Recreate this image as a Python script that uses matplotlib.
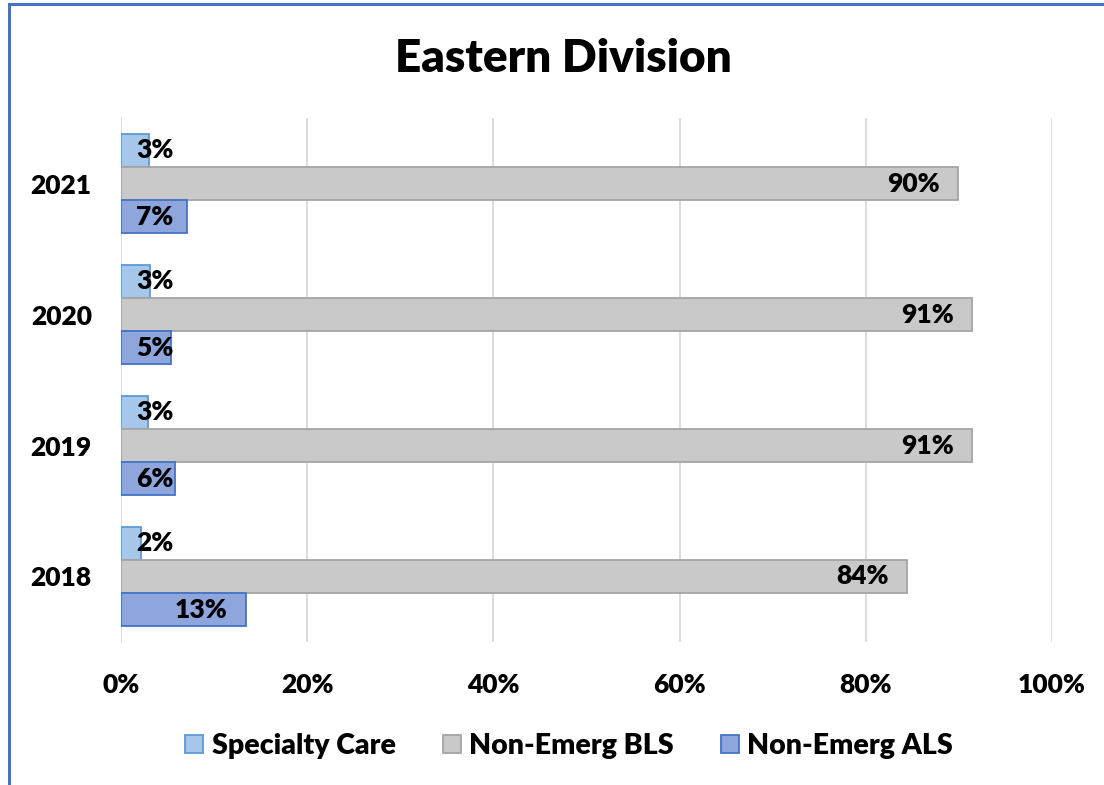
import matplotlib
matplotlib.use("Agg")
import matplotlib.pyplot as plt
import numpy as np
from matplotlib.patches import Rectangle
from matplotlib.lines import Line2D

plt.rcParams['font.family'] = ['Lato', 'DejaVu Sans']
W = 'heavy'
plt.rcParams['font.weight'] = W

years = ["2018", "2019", "2020", "2021"]
specialty_care = [2.1, 2.9, 3.1, 3.0]
non_emerg_bls = [84.4, 91.4, 91.4, 89.9]
non_emerg_als = [13.4, 5.8, 5.4, 7.1]
series_names = ["Specialty Care", "Non-Emerg BLS", "Non-Emerg ALS"]
x_ticks = [0, 20, 40, 60, 80, 100]
title = "Eastern Division"

fills = ["#A7C7EA", "#C9C9C9", "#8FA6DD"]
edges = ["#5B9BD5", "#A5A5A5", "#4472C4"]

fig = plt.figure(figsize=(11.04, 7.85), dpi=100)
ax = fig.add_axes([121/1104, 143/785, 931/1104, 524/785])

y = np.arange(len(years))
h = 0.252
offsets = [h, 0, -h]
series = [specialty_care, non_emerg_bls, non_emerg_als]
FS = 19

for vals, off, fc, ec, name in zip(series, offsets, fills, edges, series_names):
    ax.barh(y + off, vals, height=h, color=fc, edgecolor=ec, linewidth=1.3, zorder=3, label=name)
    for yi, v in zip(y + off, vals):
        txt = f"{round(v):d}%"
        if v < 10:
            ax.annotate(txt, xy=(0, yi), xytext=(11, 0), textcoords='offset points',
                        ha='left', va='center', fontsize=FS, fontweight=W, color='black', zorder=5)
        else:
            ax.annotate(txt, xy=(v, yi), xytext=(-13, 0), textcoords='offset points',
                        ha='right', va='center', fontsize=FS, fontweight=W, color='black', zorder=5)

ax.set_xlim(0, 100)
ax.set_ylim(-0.5, 3.5)
ax.set_xticks(x_ticks)
ax.set_xticklabels([f"{t}%" for t in x_ticks], fontsize=FS, fontweight=W)
ax.set_yticks(y)
ax.set_yticklabels(years, fontsize=FS, fontweight=W)
ax.tick_params(axis='both', length=0)
ax.tick_params(axis='x', pad=22.5)
ax.tick_params(axis='y', pad=21)
ax.grid(axis='x', color='#D9D9D9', linewidth=1.3, zorder=0)
for s in ax.spines.values():
    s.set_visible(False)

fig.text(563/1104, 1 - 59/785, title, ha='center', va='center', fontsize=33, fontweight=W)

leg_handles = [Rectangle((0, 0), 1, 1, facecolor=fc, edgecolor=ec, linewidth=1.3) for fc, ec in zip(fills, edges)]
fig.legend(leg_handles, series_names, loc='center', bbox_to_anchor=(569/1104, 1 - 746/785), ncol=3,
           frameon=False, handlelength=0.63, handleheight=0.63, handletextpad=0.3,
           columnspacing=1.65, prop={'weight': W, 'size': 20.5})

# figure border (top and left)
fig.add_artist(Line2D([9/1104, 9/1104], [0, 1 - 4/785], transform=fig.transFigure, color='#4472C4', linewidth=2.2))
fig.add_artist(Line2D([9/1104, 1], [1 - 4/785, 1 - 4/785], transform=fig.transFigure, color='#4472C4', linewidth=2.2))

fig.savefig("out.png", dpi=100, facecolor='white')
